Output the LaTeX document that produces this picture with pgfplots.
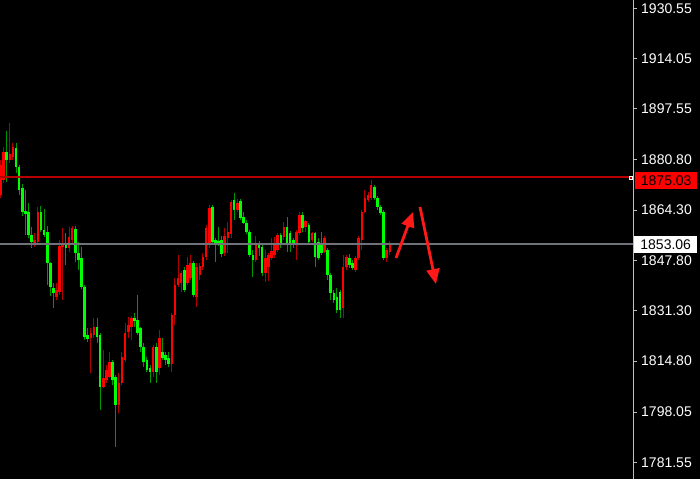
\documentclass[border=0pt]{standalone}
\usepackage{pgfplots}
\pgfplotsset{compat=1.18}
\usepackage{pgfplotstable}
\usepackage{fontspec}
\setmainfont{Liberation Sans}
\usetikzlibrary{arrows.meta}
\definecolor{upbody}{RGB}{255,0,0}
\definecolor{upwick}{RGB}{175,0,0}
\definecolor{dnbody}{RGB}{0,255,0}
\definecolor{dnwick}{RGB}{0,150,0}
\definecolor{hlred}{RGB}{185,0,0}
\definecolor{hlgray}{RGB}{112,114,122}
\definecolor{axgray}{RGB}{190,190,190}
\definecolor{arrowred}{RGB}{255,25,25}

\pgfplotstableread{
i o h l c
0 1869.27 1880.76 1868.28 1879.12
1 1874.20 1885.02 1873.22 1883.38
3 1880.76 1892.91 1879.78 1882.73
4 1881.74 1886.34 1880.76 1885.02
11 1853.52 1856.81 1852.20 1854.50
12 1853.84 1865.33 1853.52 1863.69
18 1835.80 1840.40 1834.81 1838.10
19 1837.44 1854.50 1836.46 1852.53
20 1852.20 1858.44 1834.81 1853.52
22 1851.87 1858.77 1850.56 1855.49
23 1854.50 1859.10 1852.86 1858.44
29 1822.34 1825.63 1810.86 1823.99
30 1823.33 1828.91 1822.34 1825.96
33 1806.26 1818.40 1805.93 1809.21
34 1808.56 1813.48 1807.58 1811.84
35 1809.54 1817.74 1809.21 1814.46
38 1800.35 1810.86 1797.73 1807.58
39 1807.58 1817.74 1806.92 1816.10
40 1815.12 1827.27 1814.46 1823.99
41 1824.31 1829.23 1822.34 1826.61
42 1825.96 1829.56 1821.69 1828.91
49 1811.18 1820.05 1809.54 1819.39
51 1812.50 1824.97 1810.20 1822.34
55 1813.81 1830.55 1811.18 1829.89
56 1829.89 1842.04 1826.61 1839.74
57 1839.74 1849.58 1839.08 1842.04
58 1840.40 1844.33 1837.44 1843.68
60 1840.40 1848.92 1839.74 1846.30
61 1842.04 1849.58 1841.38 1846.96
63 1835.80 1846.96 1832.51 1845.64
64 1843.02 1846.96 1841.38 1845.97
65 1845.64 1850.24 1844.66 1848.92
66 1848.92 1859.43 1847.94 1858.44
67 1853.52 1865.99 1851.87 1865.00
72 1850.24 1858.44 1849.25 1855.81
73 1855.16 1860.41 1850.24 1857.13
74 1856.48 1867.63 1855.16 1866.97
76 1864.35 1867.96 1863.69 1866.65
82 1847.94 1855.81 1847.28 1852.86
85 1843.68 1851.22 1840.72 1848.59
86 1845.64 1850.24 1841.05 1849.58
87 1848.59 1855.16 1847.94 1850.89
88 1849.58 1855.49 1848.59 1853.52
89 1851.22 1856.81 1850.56 1856.15
91 1855.49 1860.41 1854.50 1858.77
95 1852.86 1857.79 1847.94 1857.13
96 1856.81 1863.69 1856.15 1862.71
98 1858.77 1861.07 1857.13 1860.74
100 1854.50 1857.13 1853.84 1856.81
104 1850.56 1855.81 1850.24 1855.16
110 1832.18 1849.58 1828.91 1845.64
111 1845.64 1849.58 1844.66 1848.92
114 1844.66 1849.25 1844.00 1848.59
115 1848.59 1855.81 1847.94 1855.16
116 1854.50 1864.35 1851.22 1863.69
117 1863.69 1870.91 1863.37 1868.28
118 1867.63 1870.25 1866.97 1869.27
119 1868.28 1874.20 1867.63 1872.56
124 1848.59 1851.87 1847.28 1851.22
125 1850.56 1854.17 1849.58 1853.06
}\upT

\pgfplotstableread{
i o h l c
2 1883.38 1890.27 1873.54 1880.76
5 1884.69 1886.34 1876.50 1878.46
6 1878.46 1879.12 1869.27 1870.91
7 1871.57 1872.89 1862.38 1863.69
8 1864.02 1870.91 1856.15 1863.04
9 1863.69 1866.65 1855.16 1856.15
10 1856.15 1858.77 1851.87 1853.84
13 1863.69 1865.66 1857.13 1857.79
14 1857.79 1864.68 1855.49 1856.15
15 1857.13 1859.10 1839.74 1846.96
16 1846.96 1847.28 1836.13 1839.08
17 1838.75 1840.40 1832.18 1837.12
21 1853.52 1856.81 1846.30 1851.87
24 1858.12 1859.10 1847.28 1850.24
25 1850.24 1853.84 1844.66 1847.94
26 1848.59 1852.20 1838.43 1839.08
27 1839.08 1839.74 1821.69 1822.67
28 1823.33 1825.63 1821.03 1822.02
31 1825.96 1828.91 1820.71 1822.67
32 1823.33 1823.99 1798.71 1806.26
36 1814.46 1815.12 1806.92 1808.56
37 1809.54 1810.20 1786.57 1800.35
43 1828.91 1830.55 1825.96 1827.92
44 1828.25 1836.46 1823.33 1823.99
45 1825.63 1825.96 1817.74 1819.39
46 1819.39 1820.71 1812.82 1814.46
47 1815.12 1816.10 1811.18 1811.84
48 1812.50 1813.48 1807.58 1811.18
50 1819.39 1820.71 1807.58 1811.18
52 1817.74 1822.34 1815.12 1815.77
53 1816.76 1817.74 1813.48 1815.12
54 1815.77 1817.74 1812.82 1813.81
59 1844.66 1845.64 1837.44 1838.10
62 1846.96 1847.61 1835.80 1836.46
68 1865.33 1865.99 1852.86 1853.84
69 1854.50 1855.16 1847.28 1853.19
70 1854.17 1858.77 1852.53 1853.19
71 1854.50 1855.81 1848.92 1849.91
75 1867.63 1869.93 1861.07 1864.35
77 1867.30 1867.96 1861.07 1861.72
78 1862.05 1863.69 1859.76 1860.09
79 1860.09 1861.07 1856.48 1857.13
80 1857.13 1857.79 1848.92 1849.58
81 1849.58 1851.22 1842.36 1847.94
83 1853.52 1854.17 1849.25 1851.87
84 1852.20 1852.86 1842.69 1843.68
90 1856.15 1856.81 1851.87 1852.86
92 1858.77 1862.05 1850.56 1853.52
93 1856.81 1857.46 1850.56 1853.52
94 1854.50 1855.16 1851.87 1852.86
97 1862.71 1863.69 1857.13 1858.44
99 1859.43 1860.09 1853.19 1853.84
101 1856.81 1857.13 1845.64 1848.92
102 1853.84 1855.16 1847.94 1848.59
103 1853.52 1857.13 1849.58 1850.24
105 1851.22 1851.87 1841.38 1843.02
106 1843.02 1843.68 1834.81 1837.12
107 1837.12 1838.10 1833.83 1834.81
108 1835.80 1838.75 1830.55 1831.53
109 1837.44 1838.10 1828.91 1831.53
112 1848.59 1849.91 1845.31 1846.30
113 1846.96 1847.94 1844.66 1845.31
120 1871.89 1872.56 1867.63 1868.28
121 1868.28 1868.94 1864.35 1865.33
122 1865.33 1865.99 1862.71 1863.37
123 1863.69 1864.35 1847.94 1848.59
}\dnT

\begin{document}
\begin{tikzpicture}
\fill[black] (0,0) rectangle (700pt,479pt);
\begin{axis}[
  at={(0,0)}, anchor=south west,
  scale only axis, width=633pt, height=479pt,
  xmin=-0.16, xmax=203.05, ymin=1776.07, ymax=1933.27,
  axis x line=none, axis y line=right,
  axis line style={draw=axgray, line width=0.8pt, -},
  ytick={1930.55,1914.05,1897.55,1880.80,1864.30,1847.80,1831.30,1814.80,1798.05,1781.55},
  yticklabels={1930.55,1914.05,1897.55,1880.80,1864.30,1847.80,1831.30,1814.80,1798.05,1781.55},
  tick align=outside, major tick length=4pt,
  tick style={draw=axgray, line width=0.8pt},
  yticklabel style={font=\fontsize{14}{16}\selectfont, text=white, inner xsep=1pt, xshift=3pt},
  clip=false,
]
% wicks
\addplot[draw=none, mark=none, forget plot, error bars/.cd, y dir=both, y explicit, error mark=none,
  error bar style={draw=upwick, solid, line width=1pt}]
  table[x=i, y expr={(\thisrow{h}+\thisrow{l})/2}, y error expr={(\thisrow{h}-\thisrow{l})/2}] {\upT};
\addplot[draw=none, mark=none, forget plot, error bars/.cd, y dir=both, y explicit, error mark=none,
  error bar style={draw=dnwick, solid, line width=1pt}]
  table[x=i, y expr={(\thisrow{h}+\thisrow{l})/2}, y error expr={(\thisrow{h}-\thisrow{l})/2}] {\dnT};
% bodies
\addplot[draw=none, mark=none, forget plot, error bars/.cd, y dir=both, y explicit, error mark=none,
  error bar style={draw=upbody, solid, line width=2.6pt}]
  table[x=i, y expr={(\thisrow{o}+\thisrow{c})/2}, y error expr={abs(\thisrow{c}-\thisrow{o})/2}] {\upT};
\addplot[draw=none, mark=none, forget plot, error bars/.cd, y dir=both, y explicit, error mark=none,
  error bar style={draw=dnbody, solid, line width=2.6pt}]
  table[x=i, y expr={(\thisrow{o}+\thisrow{c})/2}, y error expr={abs(\thisrow{c}-\thisrow{o})/2}] {\dnT};
% horizontal price lines
\fill[hlred] (axis cs:-0.16,1874.70) rectangle (axis cs:203.05,1875.36);
\fill[hlgray] (axis cs:-0.16,1852.76) rectangle (axis cs:203.05,1853.36);
\node[draw=white, fill=hlred, line width=0.6pt, inner sep=0pt, minimum size=3pt] at (axis cs:202.4,1875.03) {};
% arrows
\draw[arrowred, line width=2.8pt, -{Triangle[width=13pt,length=15pt]}] (axis cs:126.97,1848.59) -- (axis cs:132.42,1863.69);
\draw[arrowred, line width=2.8pt, -{Triangle[width=13pt,length=15pt]}] (axis cs:134.67,1865.33) -- (axis cs:139.8,1840.07);
% price labels
\node[fill=red, text=black, anchor=west, inner sep=0pt, minimum width=62pt, minimum height=17.5pt,
  font=\fontsize{14}{16}\selectfont, xshift=2pt, yshift=-3pt] at (axis cs:203.05,1875.03) {1875.03};
\node[fill=white, text=black, anchor=west, inner sep=0pt, minimum width=63pt, minimum height=17pt,
  font=\fontsize{14}{16}\selectfont, xshift=1pt] at (axis cs:203.05,1853.06) {1853.06};
\end{axis}
\pgfresetboundingbox
\path[use as bounding box] (0,0) rectangle (700pt,479pt);
\end{tikzpicture}
\end{document}
